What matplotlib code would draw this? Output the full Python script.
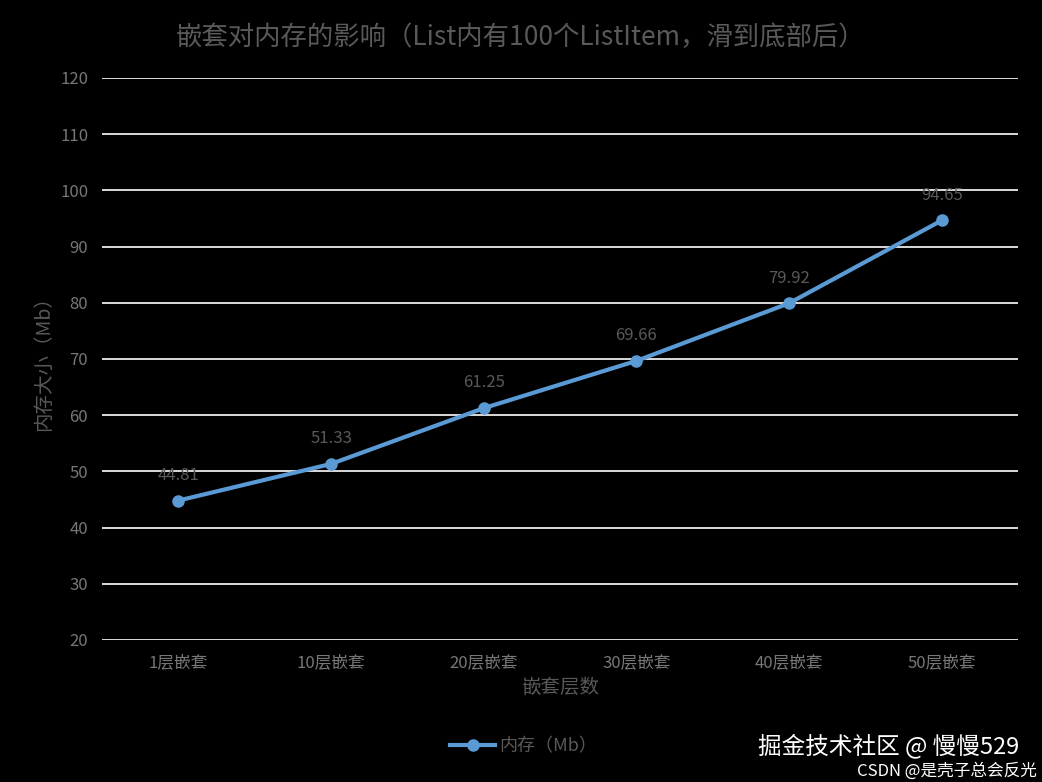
import matplotlib
matplotlib.use("Agg")
import matplotlib.pyplot as plt

plt.rcParams['font.family'] = ['Noto Sans CJK SC', 'DejaVu Sans']

categories = ["1层嵌套", "10层嵌套", "20层嵌套", "30层嵌套", "40层嵌套", "50层嵌套"]
memory = [44.81, 51.33, 61.25, 69.66, 79.92, 94.65]
yticks = list(range(20, 130, 10))

fig = plt.figure(figsize=(10.42, 7.82), dpi=100, facecolor="black")
ax = fig.add_axes([0.098, 0.1816, 0.879, 0.7187], facecolor="black")

x = range(len(categories))
ax.plot(x, memory, color="#5b9bd5", lw=3, marker="o", ms=8, label="内存（Mb）")
for xi, v in zip(x, memory):
    ax.annotate(f"{v:.2f}", (xi, v), xytext=(0, 12), textcoords="offset points",
                ha="center", va="bottom", color="#595959", fontsize=12)

ax.set_xlim(-0.5, len(categories) - 0.5)
ax.set_ylim(20, 120)
ax.set_yticks(yticks)
ax.set_xticks(list(x))
ax.set_xticklabels(categories)
ax.grid(axis="y", color="white", lw=1.2)
ax.set_axisbelow(True)
for s in ax.spines.values():
    s.set_visible(False)
ax.tick_params(length=0, colors="#777777", labelsize=12, pad=10)

ax.set_xlabel("嵌套层数", color="#595959", fontsize=14, labelpad=4)
ax.set_ylabel("内存大小（Mb）", color="#595959", fontsize=14, labelpad=4)
fig.text(0.5, 0.952, "嵌套对内存的影响（List内有100个ListItem，滑到底部后）",
         ha="center", va="center", color="#595959", fontsize=19)

ax.legend(loc="upper center", bbox_to_anchor=(0.46, -0.145), frameon=False,
          fontsize=13, labelcolor="#595959", handlelength=2.5, handletextpad=0.2)

fig.text(0.978, 0.03, "掘金技术社区 @ 慢慢529", ha="right", va="bottom", color="white", fontsize=17)
fig.text(0.995, 0.003, "CSDN @是壳子总会反光", ha="right", va="bottom", color="white", fontsize=12)

fig.savefig("out.png", dpi=100, facecolor="black")
